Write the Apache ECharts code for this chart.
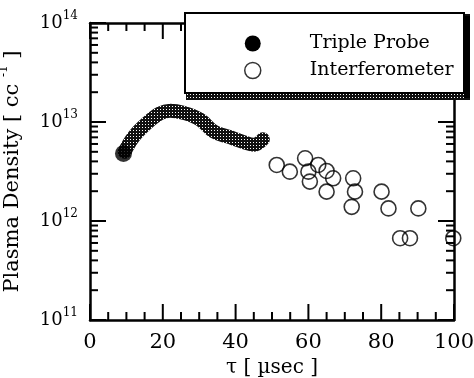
<!DOCTYPE html>
<html><head><meta charset="utf-8">
<script src="https://cdn.jsdelivr.net/npm/echarts@6/dist/echarts.min.js"></script>
<style>html,body{margin:0;padding:0;background:#fff}#c{width:474px;height:378px}</style>
</head><body><div id="c"></div>
<script>
// ---- data ----
const xTicks = [0, 20, 40, 60, 80, 100];
const xMinorSplit = 4;
const yExponents = [11, 12, 13, 14];
const probeStartX = [9.2];
const probeStartY = [4.8e12];
const probeX = [9.5, 12, 15.6, 19.2, 22, 25.6, 30.2, 34, 38, 42, 45, 47.5];
const probeY = [5.0e12, 7.1e12, 9.7e12, 1.22e13, 1.30e13, 1.24e13, 1.06e13, 8.0e12, 7.1e12, 6.3e12, 5.9e12, 6.7e12];
const interfX = [51.3, 54.9, 59.1, 60.0, 60.4, 62.7, 65.0, 66.8, 65.0, 72.3, 72.8, 71.9, 80.1, 82.0, 90.2, 85.2, 87.9, 99.8];
const interfY = [3.68e12, 3.15e12, 4.3e12, 3.15e12, 2.5e12, 3.68e12, 3.2e12, 2.7e12, 1.98e12, 2.7e12, 1.98e12, 1.39e12, 1.98e12, 1.34e12, 1.34e12, 6.7e11, 6.7e11, 6.7e11];
const mantissas = [1, 2, 3, 4, 5, 6, 7, 8, 9];

// tick positions (drawn through the axes' scales)
const xStep = xTicks[1] - xTicks[0];
const xTickVals = [];
for (let i = 0; i < xTicks.length; i++) {
  xTickVals.push(xTicks[i]);
  if (i < xTicks.length - 1) for (let k = 1; k < xMinorSplit; k++) xTickVals.push(xTicks[i] + k * xStep / xMinorSplit);
}
const yTickVals = [];
for (let i = 0; i < yExponents.length - 1; i++) for (const m of mantissas) yTickVals.push([m, yExponents[i]]);
yTickVals.push([1, yExponents[yExponents.length - 1]]);

const Y_MIN = Math.pow(10, yExponents[0]);
const Y_MAX = Math.pow(10, yExponents[yExponents.length - 1]);

function makePattern() {
  const c = document.createElement('canvas');
  c.width = 3; c.height = 3;
  const g = c.getContext('2d');
  g.fillStyle = '#111'; g.fillRect(0, 0, 3, 3);
  g.fillStyle = '#fff'; g.fillRect(1, 1, 1, 1);
  return c;
}
const FONT = 'DejaVu Serif';
const INK = '#000';
const MAJ = 16, MIN = 8;

function build() {
  const pat = { image: makePattern(), repeat: 'repeat' };
  function xAxisDef(pos, extra) {
    return Object.assign({
      type: 'value', position: pos, min: xTicks[0], max: xTicks[xTicks.length - 1], interval: xStep,
      splitLine: { show: false },
      axisLine: { show: true, onZero: false, lineStyle: { color: INK, width: 2.5 } },
      axisTick: { show: false }, minorTick: { show: false }
    }, extra);
  }
  function yAxisDef(pos, extra) {
    return Object.assign({
      type: 'log', logBase: 10, position: pos, min: Y_MIN, max: Y_MAX,
      splitLine: { show: false },
      axisLine: { show: true, onZero: false, lineStyle: { color: INK, width: 2.5 } },
      axisTick: { show: false }, minorTick: { show: false }
    }, extra);
  }
  return {
    animation: false,
    backgroundColor: '#fff',
    grid: { left: 90, right: 20, top: 23, bottom: 58, outerBoundsMode: 'none' },
    xAxis: [
      xAxisDef('bottom', {
        axisLabel: { margin: 12, color: '#000', fontFamily: FONT, fontSize: 21 },
        name: 'τ [ µsec ]', nameLocation: 'middle', nameGap: 34,
        nameTextStyle: { color: '#000', fontFamily: FONT, fontSize: 20 }
      }),
      xAxisDef('top', { axisLabel: { show: false } })
    ],
    yAxis: [
      yAxisDef('left', {
        axisLabel: {
          margin: 12, color: '#000',
          formatter: v => '{b|10}{s|' + Math.round(Math.log10(v)) + '}',
          rich: {
            b: { fontFamily: FONT, fontSize: 18, lineHeight: 26, color: '#000' },
            s: { fontFamily: FONT, fontSize: 12, lineHeight: 12, verticalAlign: 'top', color: '#000' }
          }
        },
        name: '{a|Plasma Density [ cc }{s|-1}{a| ]}', nameLocation: 'middle', nameGap: 62,
        nameTextStyle: {
          rich: {
            a: { fontFamily: FONT, fontSize: 21, lineHeight: 30, color: '#000' },
            s: { fontFamily: FONT, fontSize: 12, lineHeight: 12, verticalAlign: 'top', color: '#000' }
          }
        }
      }),
      yAxisDef('right', { axisLabel: { show: false } })
    ],
    legend: {
      orient: 'vertical', left: 244, top: 34, z: 20, padding: 0,
      itemWidth: 16, itemHeight: 16, itemGap: 8,
      textStyle: { fontFamily: FONT, fontSize: 19, lineHeight: 16, color: '#000', padding: [0, 0, 0, 44] },
      data: [
        { name: 'Triple Probe', icon: 'circle', itemStyle: { color: '#000', borderWidth: 0 } },
        { name: 'Interferometer', icon: 'circle', itemStyle: { color: '#fff', borderColor: '#000', borderWidth: 1.5 } }
      ]
    },
    graphic: [
      { type: 'rect', z: 10, shape: { x: 186, y: 14, width: 284, height: 86 }, style: { fill: pat } },
      { type: 'rect', z: 10, shape: { x: 464, y: 16, width: 6, height: 82 }, style: { fill: '#000' } },
      { type: 'rect', z: 11, shape: { x: 185, y: 13, width: 279, height: 80 }, style: { fill: '#fff', stroke: '#000', lineWidth: 2 } }
    ],
    series: [
      {
        name: 'Triple Probe', type: 'line', smooth: 0.4, showSymbol: false, symbol: 'none',
        data: probeX.map((x, i) => [x, probeY[i]]),
        lineStyle: { width: 14, color: pat, cap: 'round', join: 'round' },
        itemStyle: { color: '#000' }, z: 3
      },
      {
        name: 'Triple Probe', type: 'scatter', symbol: 'circle', symbolSize: 17,
        data: probeStartX.map((x, i) => [x, probeStartY[i]]),
        itemStyle: { color: '#000' }, z: 4
      },
      {
        name: 'Interferometer', type: 'scatter', symbol: 'circle', symbolSize: 15,
        data: interfX.map((x, i) => [x, interfY[i]]),
        itemStyle: { color: 'rgba(255,255,255,0)', borderColor: '#000', borderWidth: 1.6 }, z: 4
      },
      {
        // x-axis ticks (bottom and mirrored top), inward
        type: 'custom', silent: true, z: 2,
        data: xTickVals.map(v => [v, Y_MIN]),
        renderItem: function (params, api) {
          const cs = params.coordSys;
          const v = api.value(0);
          const x = api.coord([v, Y_MIN])[0];
          const L = (Math.abs(v % xStep) < 1e-9) ? MAJ : MIN;
          const b = cs.y + cs.height, t = cs.y;
          return {
            type: 'group', children: [
              { type: 'line', shape: { x1: x, y1: b, x2: x, y2: b - L }, style: { stroke: INK, lineWidth: 2 } },
              { type: 'line', shape: { x1: x, y1: t, x2: x, y2: t + L }, style: { stroke: INK, lineWidth: 2 } }
            ]
          };
        }
      },
      {
        // log y-axis ticks (left and mirrored right), inward
        type: 'custom', silent: true, z: 2,
        data: yTickVals.map(p => [xTicks[0], p[0] * Math.pow(10, p[1]), p[0]]),
        renderItem: function (params, api) {
          const cs = params.coordSys;
          const y = api.coord([xTicks[0], api.value(1)])[1];
          const L = api.value(2) === 1 ? MAJ : MIN;
          const l = cs.x, r = cs.x + cs.width;
          return {
            type: 'group', children: [
              { type: 'line', shape: { x1: l, y1: y, x2: l + L, y2: y }, style: { stroke: INK, lineWidth: 2 } },
              { type: 'line', shape: { x1: r, y1: y, x2: r - L, y2: y }, style: { stroke: INK, lineWidth: 2 } }
            ]
          };
        }
      }
    ]
  };
}
echarts.init(document.getElementById('c')).setOption(build());
</script></body></html>
